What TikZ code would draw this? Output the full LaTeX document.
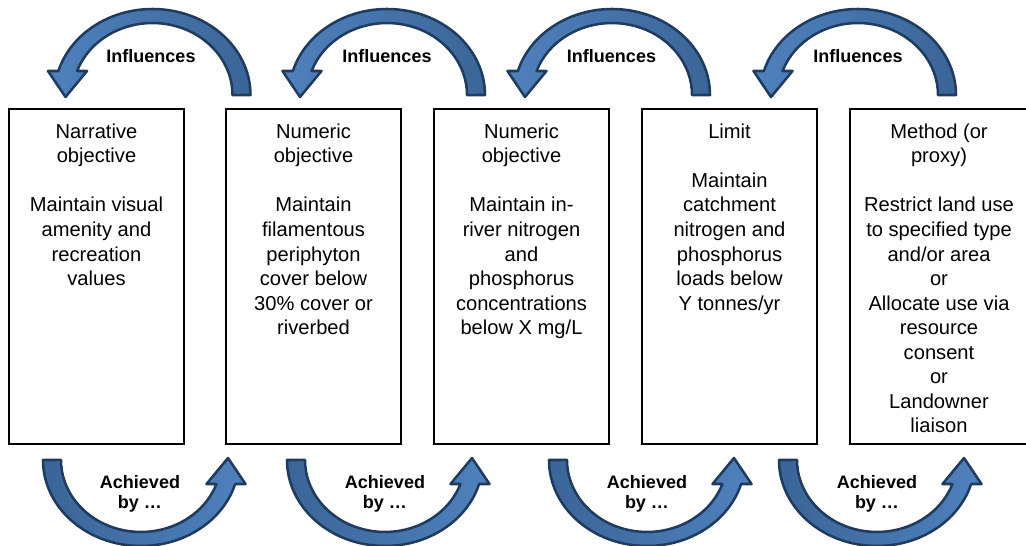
\documentclass[tikz,border=0pt]{standalone}
\usepackage{fontspec}
\setmainfont{Liberation Sans}
\usetikzlibrary{positioning}
\definecolor{arrowlight}{HTML}{4F81BD}
\definecolor{arrowdark}{HTML}{3A6598}
\definecolor{arrowedge}{HTML}{1F3B5E}
\begin{document}
\begin{tikzpicture}[x=0.75pt,y=0.75pt,
				box/.style={draw,line width=1pt,minimum width=131.25pt,minimum height=251.25pt,outer sep=0pt,inner sep=0pt},
				boxtext/.style={align=center,inner sep=0pt,font=\fontsize{15.1}{18.4}\selectfont},
				tag/.style={align=center,inner sep=0pt,font=\fontsize{13.5}{15}\selectfont\bfseries},
				arrowshade/.style={left color=arrowlight,right color=arrowdark},
				bendarrow/.pic={
					\draw[line width=1.9pt,draw=arrowedge,line join=round,arrowshade]
					(98,0) arc[start angle=0,end angle=163.8,x radius=98,y radius=86]
					-- (-104.5,24) -- (-87,-2) -- (-65.5,24) -- (-75.4,24)
					arc[start angle=160.5,end angle=0,x radius=80,y radius=72] -- cycle;
				}]
\useasboundingbox (0,0) rectangle (1026,-546);
\node[box] (b1) at (96.5,-276.5) {};
\node[box] (b2) at (313.5,-276.5) {};
\node[box] (b3) at (521.5,-276.5) {};
\node[box] (b4) at (729.5,-276.5) {};
\node[box,minimum width=133.5pt] (b5) at (939,-276.5) {};
\node[boxtext,below=10.9pt of b1.north] (t1) {Narrative\\objective\\[18.4pt]Maintain visual\\amenity and\\recreation\\values};
\node[boxtext,below=10.9pt of b2.north] (t2) {Numeric\\objective\\[18.4pt]Maintain\\filamentous\\periphyton\\cover below\\30\% cover or\\riverbed};
\node[boxtext,below=10.9pt of b3.north] (t3) {Numeric\\objective\\[18.4pt]Maintain in-\\river nitrogen\\and\\phosphorus\\concentrations\\below X mg/L};
\node[boxtext,below=10.9pt of b4.north] (t4) {Limit\\[18.4pt]Maintain\\catchment\\nitrogen and\\phosphorus\\loads below\\Y tonnes/yr};
\node[boxtext,below=10.9pt of b5.north] (t5) {Method (or\\proxy)\\[18.4pt]Restrict land use\\to specified type\\and/or area\\or\\Allocate use via\\resource\\consent\\or\\Landowner\\liaison};
\foreach \cx in {152.5,387,612,858}
	\pic at (\cx,-95) {bendarrow};
\foreach \cx in {141,385,647,877}
	\pic[rotate=180,arrowshade/.style={left color=arrowdark,right color=arrowlight}] at (\cx,-460) {bendarrow};
\foreach \cx [count=\i] in {151,387,611.5,858}
	\node[tag] (inf\i) at (\cx,-56.5) {Influences};
\foreach \cx [count=\i] in {140,385,647,877}
	\node[tag] (ach\i) at (\cx,-494) {Achieved\\by …};
\end{tikzpicture}
\end{document}
